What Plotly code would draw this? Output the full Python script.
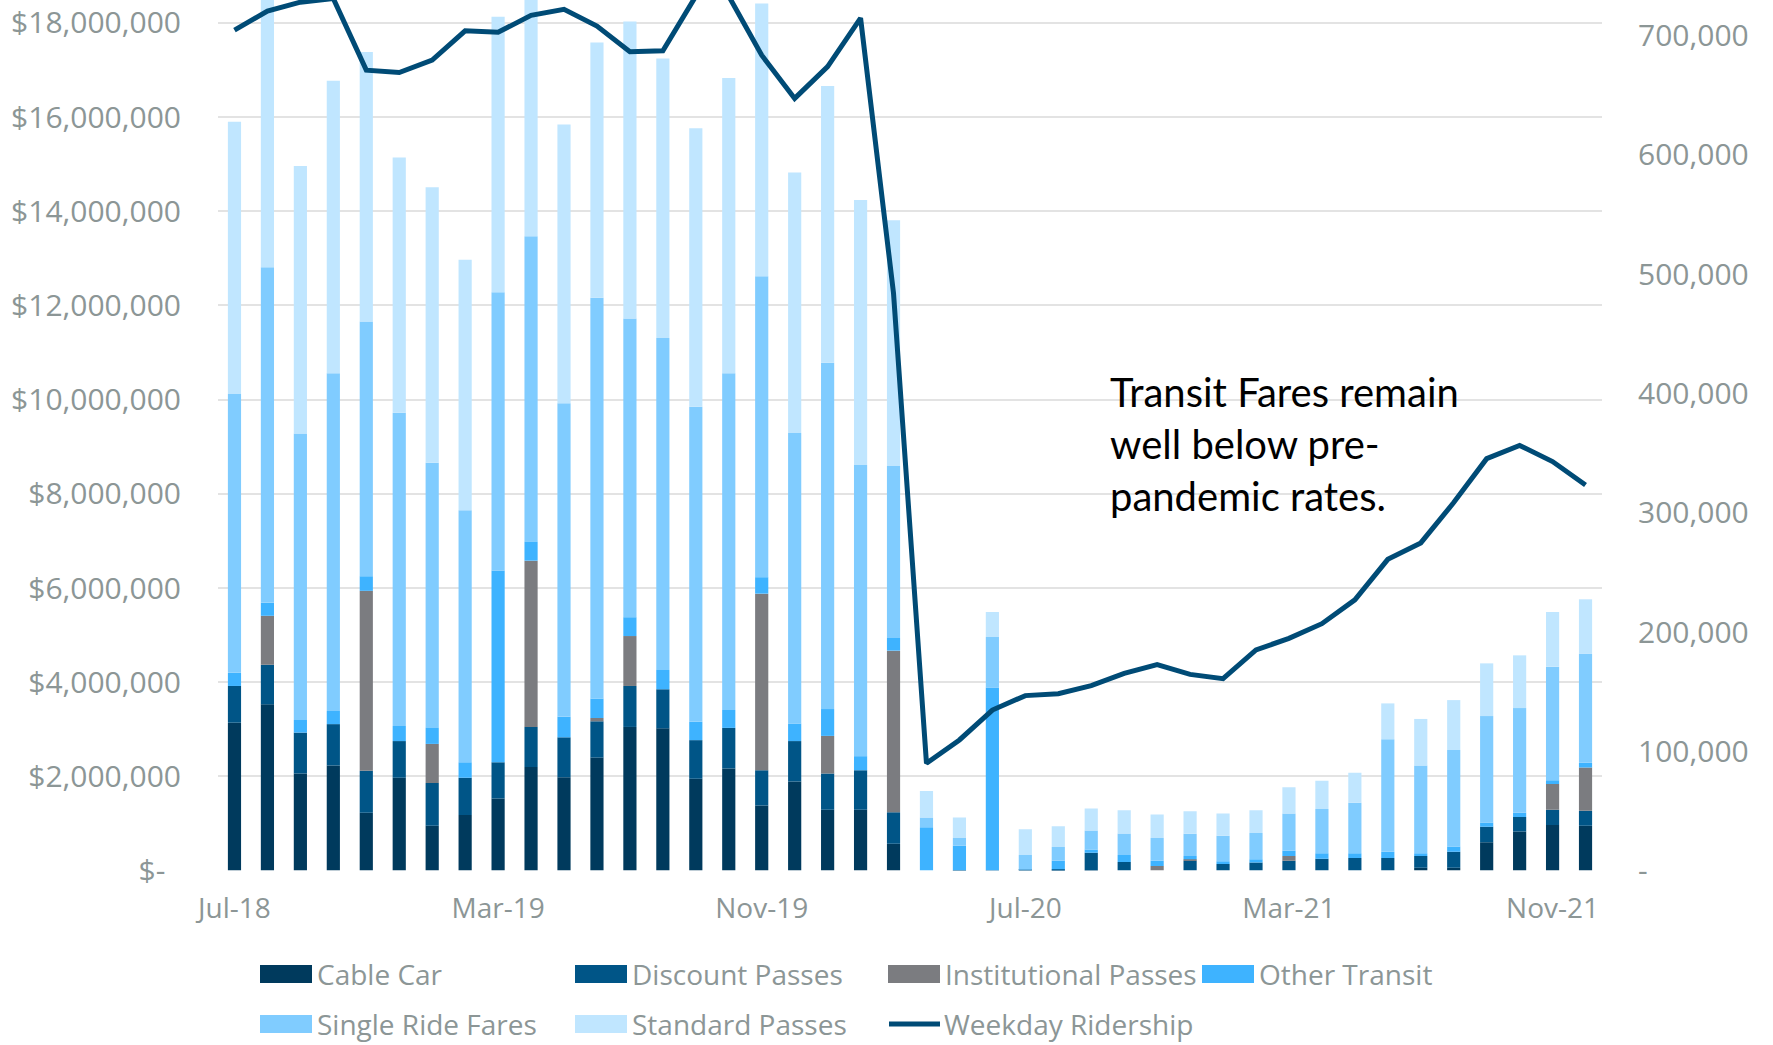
import pandas as pd
import plotly.graph_objects as go

# ---------------- data ----------------
months = [d.strftime("%b-%y") for d in pd.date_range("2018-07-01", "2021-12-01", freq="MS")]

cable_car = [3.14, 3.53, 2.06, 2.23, 1.23, 1.97, 0.95, 1.18, 1.53, 2.20, 1.98, 2.40,
             3.05, 3.02, 1.95, 2.17, 1.38, 1.89, 1.29, 1.29, 0.57, 0.00, 0.00, -0.05,
             0.00, -0.05, -0.05, 0.00, 0.00, 0.00, 0.00, 0.00, 0.00, 0.00, 0.00, 0.00,
             0.06, 0.06, 0.60, 0.83, 0.97, 0.95]
discount = [0.78, 0.84, 0.87, 0.88, 0.89, 0.78, 0.91, 0.79, 0.77, 0.85, 0.85, 0.77,
            0.87, 0.83, 0.82, 0.86, 0.75, 0.86, 0.77, 0.84, 0.67, 0.00, 0.01, 0.00,
            0.02, 0.03, 0.38, 0.18, 0.00, 0.21, 0.14, 0.17, 0.21, 0.25, 0.27, 0.27,
            0.25, 0.34, 0.33, 0.31, 0.32, 0.32]
institutional = [0.00, 1.04, 0.00, 0.00, 3.82, 0.00, 0.83, 0.00, 0.00, 3.53, 0.00, 0.07,
                 1.06, 0.00, 0.00, 0.00, 3.75, 0.00, 0.80, 0.00, 3.43, 0.00, 0.00, 0.00,
                 0.00, 0.00, 0.00, 0.00, 0.10, 0.03, 0.00, 0.00, 0.10, 0.00, 0.00, 0.00,
                 0.00, 0.00, 0.00, 0.00, 0.55, 0.92]
other_transit = [0.28, 0.28, 0.27, 0.28, 0.31, 0.32, 0.34, 0.33, 4.07, 0.41, 0.44, 0.41,
                 0.40, 0.41, 0.39, 0.38, 0.35, 0.37, 0.57, 0.30, 0.27, 0.92, 0.52, 3.88,
                 0.00, 0.18, 0.07, 0.15, 0.11, 0.07, 0.06, 0.07, 0.11, 0.12, 0.10, 0.13,
                 0.06, 0.11, 0.09, 0.09, 0.08, 0.10]
single_ride = [5.92, 7.12, 6.08, 7.17, 5.41, 6.65, 5.63, 5.35, 5.91, 6.48, 6.65, 8.51,
               6.34, 7.05, 6.69, 7.15, 6.39, 6.17, 7.35, 6.18, 3.65, 0.21, 0.16, 1.08,
               0.31, 0.29, 0.40, 0.46, 0.48, 0.47, 0.54, 0.56, 0.79, 0.94, 1.07, 2.39,
               1.86, 2.05, 2.26, 2.22, 2.41, 2.31]
standard = [5.78, 6.40, 5.68, 6.21, 5.72, 5.42, 5.85, 5.32, 5.85, 5.50, 5.92, 5.42,
            6.31, 5.93, 5.91, 6.27, 5.79, 5.53, 5.88, 5.63, 5.22, 0.56, 0.44, 0.53,
            0.55, 0.44, 0.47, 0.49, 0.50, 0.48, 0.47, 0.48, 0.56, 0.60, 0.64, 0.76,
            0.99, 1.06, 1.12, 1.12, 1.16, 1.16]
# weekday ridership, thousands
ridership = [704.6, 720.5, 728.0, 731.0, 671.0, 669.0, 679.5, 704.0, 702.7, 717.0, 722.0, 708.0,
             686.4, 687.3, 733.0, 733.0, 683.5, 647.3, 674.0, 714.6, 484.0, 90.0, 109.5, 134.6,
             146.7, 148.3, 155.0, 165.3, 172.7, 164.5, 160.9, 185.0, 194.7, 207.0, 227.0, 260.9,
             274.7, 308.5, 345.3, 356.4, 342.9, 323.2]

x_tick_labels = ["Jul-18", "Mar-19", "Nov-19", "Jul-20", "Mar-21", "Nov-21"]
left_tick_vals = [0, 2, 4, 6, 8, 10, 12, 14, 16, 18]  # $ millions
right_tick_vals = [0, 100, 200, 300, 400, 500, 600, 700]  # thousands

series_names = ["Cable Car", "Discount Passes", "Institutional Passes", "Other Transit",
                "Single Ride Fares", "Standard Passes"]
series_values = [cable_car, discount, institutional, other_transit, single_ride, standard]
series_colors = ["#003A5D", "#005587", "#7B7C80", "#3EB3FF", "#80CCFF", "#C0E6FF"]
line_name = "Weekday Ridership"
line_color = "#004B76"
callout_text = "Transit Fares remain<br>well below pre-<br>pandemic rates."

# ---------------- figure ----------------
W, H = 1773, 1045
PL, PR, PB = 218, 1602, 870.6
GRAY = "#8C9696"
FONT = "Open Sans"

fig = go.Figure()
for name, vals, col in zip(series_names, series_values, series_colors):
    fig.add_trace(go.Bar(x=months, y=[v * 1e6 for v in vals], name=name,
                         marker=dict(color=col, line=dict(width=0)),
                         showlegend=False, yaxis="y"))
fig.add_trace(go.Scatter(x=months, y=[r * 1000 for r in ridership], name=line_name,
                         mode="lines", line=dict(color=line_color, width=5),
                         showlegend=False, yaxis="y2"))


def fmt_money(v):
    return "$-\u00a0\u00a0" if v == 0 else "${:,.0f}".format(v * 1e6)


def fmt_count(v):
    return "-" if v == 0 else "{:,.0f}".format(v * 1000)


xfont = dict(family=FONT, size=28, color=GRAY)
yfont = dict(family=FONT, size=30, color=GRAY)
fig.update_layout(
    width=W, height=H, template="none",
    margin=dict(l=0, r=0, t=0, b=0, pad=0),
    paper_bgcolor="white", plot_bgcolor="white",
    barmode="relative", bargap=0.6,
    showlegend=False,
    xaxis=dict(domain=[PL / W, PR / W], type="category", range=[-0.5, 41.5],
               tickmode="array", tickvals=x_tick_labels, ticktext=x_tick_labels,
               showgrid=False, showline=False, zeroline=False, ticks="",
               tickfont=xfont, ticklabelstandoff=18, automargin=False),
    yaxis=dict(domain=[(H - PB) / H, 1], range=[0, 18.484e6],
               tickmode="array", tickvals=[v * 1e6 for v in left_tick_vals],
               ticktext=[fmt_money(v) for v in left_tick_vals],
               showgrid=True, gridcolor="#E3E3E3", gridwidth=2,
               zeroline=False, showline=False, ticks="",
               tickfont=yfont, ticklabelstandoff=36, automargin=False),
    yaxis2=dict(overlaying="y", side="right", range=[0, 729.8e3],
                tickmode="array", tickvals=[v * 1000 for v in right_tick_vals],
                ticktext=[fmt_count(v) for v in right_tick_vals],
                showgrid=False, zeroline=False, showline=False, ticks="",
                tickfont=yfont, ticklabelstandoff=35, automargin=False),
)

# ---------- callout text ----------
fig.add_annotation(text=callout_text, xref="paper", yref="paper", x=1108 / W, y=1 - 444 / H,
                   xanchor="left", yanchor="middle", align="left", showarrow=False,
                   font=dict(family="Lato", size=40, color="black"))

# ---------- custom legend ----------
legend_items = [
    (series_names[0], series_colors[0], 260, 974, "box"),
    (series_names[1], series_colors[1], 575, 974, "box"),
    (series_names[2], series_colors[2], 888, 974, "box"),
    (series_names[3], series_colors[3], 1202, 974, "box"),
    (series_names[4], series_colors[4], 260, 1024, "box"),
    (series_names[5], series_colors[5], 575, 1024, "box"),
    (line_name, line_color, 887, 1024, "line"),
]
for name, col, lx, ly, kind in legend_items:
    if kind == "box":
        fig.add_shape(type="rect", xref="paper", yref="paper",
                      x0=lx / W, x1=(lx + 52) / W, y0=1 - (ly - 9) / H, y1=1 - (ly + 9) / H,
                      fillcolor=col, line=dict(width=0), layer="above")
    else:
        fig.add_shape(type="line", xref="paper", yref="paper",
                      x0=(lx + 2) / W, x1=(lx + 53) / W, y0=1 - ly / H, y1=1 - ly / H,
                      line=dict(color=col, width=5), layer="above")
    fig.add_annotation(text=name, xref="paper", yref="paper", x=(lx + 55) / W, y=1 - ly / H,
                       xanchor="left", yanchor="middle", showarrow=False,
                       font=dict(family=FONT, size=28, color=GRAY))

fig.write_html("out.html", config={"displayModeBar": False},
               post_script="document.body.style.margin='0';document.body.style.overflow='hidden';")
